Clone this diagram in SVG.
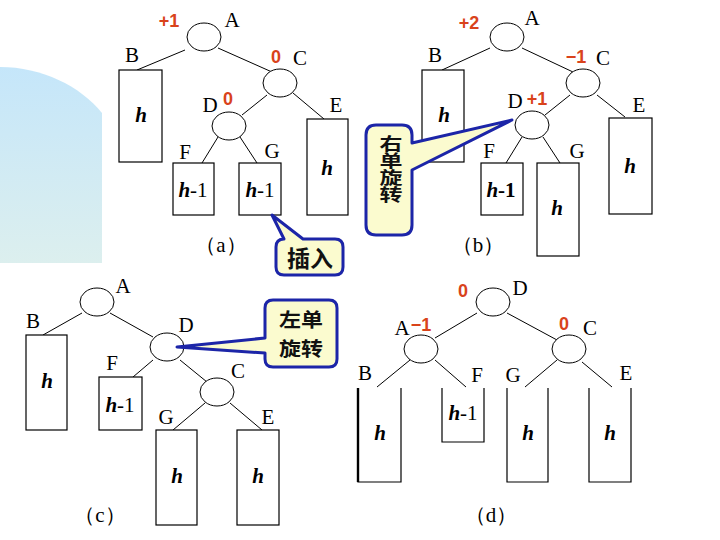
<svg xmlns="http://www.w3.org/2000/svg" width="720" height="540" viewBox="0 0 720 540">
<defs>
<linearGradient id="bg" x1="0" y1="0" x2="0" y2="1">
<stop offset="0" stop-color="#c5e6fa"/>
<stop offset="1" stop-color="#dcefee"/>
</linearGradient>
</defs>
<style>
.n{fill:#fff;stroke:#000;stroke-width:1}
.bx{fill:#fff;stroke:#000;stroke-width:1.2}
.ob{fill:none;stroke:#000;stroke-width:1.2}
.ln{stroke:#000;stroke-width:1;fill:none}
.lb{font-family:"Liberation Serif",serif;font-size:21px;text-anchor:middle;fill:#000}
.bf{font-family:"Liberation Sans",Arial,sans-serif;font-size:18px;font-weight:bold;text-anchor:middle;fill:#d9431b}
.h{font-family:"Liberation Serif",serif;font-size:21px;text-anchor:middle;fill:#000}
.hi{font-style:italic;font-weight:bold}
.co{fill:#fbfbcf;stroke:#1c25a8;stroke-width:3;stroke-linejoin:round}
.ct{font-family:"Noto Sans CJK SC",sans-serif;font-size:23px;font-weight:bold;text-anchor:middle;fill:#111}
</style>
<rect width="720" height="540" fill="#fff"/>
<path d="M0,67 C42,67 80,86 102,113 L102,263 L0,263 Z" fill="url(#bg)"/>

<g id="connectors">
<!-- (a) -->
<line class="ln" x1="185" y1="50" x2="137" y2="70"/>
<line class="ln" x1="218" y1="48" x2="272" y2="72"/>
<line class="ln" x1="267" y1="95" x2="242" y2="115"/>
<line class="ln" x1="293" y1="93" x2="324" y2="119"/>
<line class="ln" x1="218" y1="137" x2="202" y2="163"/>
<line class="ln" x1="240" y1="137" x2="257" y2="163"/>
<!-- (b) -->
<line class="ln" x1="490" y1="48" x2="442" y2="70"/>
<line class="ln" x1="522" y1="48" x2="573" y2="72"/>
<line class="ln" x1="570" y1="95" x2="545" y2="115"/>
<line class="ln" x1="597" y1="95" x2="625" y2="117"/>
<line class="ln" x1="522" y1="137" x2="506" y2="163"/>
<line class="ln" x1="543" y1="137" x2="560" y2="163"/>
<!-- (c) -->
<line class="ln" x1="82" y1="313" x2="43" y2="335"/>
<line class="ln" x1="110" y1="313" x2="153" y2="337"/>
<line class="ln" x1="153" y1="360" x2="133" y2="377"/>
<line class="ln" x1="180" y1="360" x2="207" y2="382"/>
<line class="ln" x1="205" y1="403" x2="173" y2="430"/>
<line class="ln" x1="230" y1="403" x2="262" y2="430"/>
<!-- (d) -->
<line class="ln" x1="477" y1="313" x2="435" y2="338"/>
<line class="ln" x1="507" y1="313" x2="557" y2="340"/>
<line class="ln" x1="410" y1="360" x2="377" y2="387"/>
<line class="ln" x1="435" y1="360" x2="466" y2="387"/>
<line class="ln" x1="557" y1="360" x2="525" y2="387"/>
<line class="ln" x1="582" y1="362" x2="612" y2="387"/>
</g>

<!-- (a) -->
<g id="a-A"><ellipse class="n" cx="204" cy="37" rx="17" ry="14"/><text class="lb" x="232" y="27">A</text><text class="bf" x="169" y="27">+1</text></g>
<g id="a-B"><text class="lb" x="132" y="62">B</text><rect class="bx" x="119" y="70" width="43" height="92"/><text class="h hi" x="141" y="122">h</text></g>
<g id="a-C"><ellipse class="n" cx="280" cy="83" rx="17" ry="14"/><text class="bf" x="276" y="63">0</text><text class="lb" x="300" y="65">C</text></g>
<g id="a-D"><ellipse class="n" cx="229" cy="126" rx="17" ry="14"/><text class="lb" x="210" y="112">D</text><text class="bf" x="228" y="105">0</text></g>
<g id="a-E"><text class="lb" x="336" y="112">E</text><rect class="bx" x="307" y="119" width="41" height="96"/><text class="h hi" x="327" y="175">h</text></g>
<g id="a-F"><text class="lb" x="185" y="159">F</text><rect class="bx" x="173" y="163" width="41" height="52"/><text class="h" x="193" y="197"><tspan class="hi">h</tspan>-1</text></g>
<g id="a-G"><text class="lb" x="272" y="158">G</text><rect class="bx" x="239" y="163" width="42" height="52"/><text class="h" x="260" y="197"><tspan class="hi">h</tspan>-1</text></g>
<text class="lb" x="221" y="252">（a）</text>

<!-- (b) -->
<g id="b-A"><ellipse class="n" cx="507" cy="37" rx="17" ry="14"/><text class="lb" x="532" y="25">A</text><text class="bf" x="469" y="29">+2</text></g>
<g id="b-B"><text class="lb" x="435" y="62">B</text><rect class="bx" x="422" y="70" width="42" height="92"/><text class="h hi" x="444" y="122">h</text></g>
<g id="b-C"><ellipse class="n" cx="583" cy="83" rx="17" ry="14"/><text class="bf" x="576" y="63">−1</text><text class="lb" x="603" y="65">C</text></g>
<g id="b-D"><ellipse class="n" cx="532" cy="125" rx="17" ry="14"/><text class="lb" x="515" y="108">D</text><text class="bf" x="537" y="105">+1</text></g>
<g id="b-E"><text class="lb" x="639" y="112">E</text><rect class="bx" x="609" y="118" width="43" height="96"/><text class="h hi" x="630" y="173">h</text></g>
<g id="b-F"><text class="lb" x="489" y="158">F</text><rect class="bx" x="481" y="163" width="42" height="52"/><text class="h" x="501" y="197" font-weight="bold"><tspan class="hi">h</tspan>-1</text></g>
<g id="b-G"><text class="lb" x="577" y="158">G</text><rect class="bx" x="537" y="163" width="42" height="93"/><text class="h hi" x="557" y="215">h</text></g>
<text class="lb" x="478" y="252">（b）</text>

<!-- (c) -->
<g id="c-A"><ellipse class="n" cx="97" cy="302" rx="17" ry="14"/><text class="lb" x="123" y="293">A</text></g>
<g id="c-B"><text class="lb" x="33" y="328">B</text><rect class="bx" x="26" y="335" width="41" height="95"/><text class="h hi" x="47" y="388">h</text></g>
<g id="c-D"><ellipse class="n" cx="167" cy="347" rx="17" ry="14"/><text class="lb" x="186" y="332">D</text></g>
<g id="c-F"><text class="lb" x="112" y="370">F</text><rect class="bx" x="99" y="377" width="43" height="53"/><text class="h" x="120" y="412"><tspan class="hi">h</tspan>-1</text></g>
<g id="c-C"><ellipse class="n" cx="217" cy="392" rx="17" ry="14"/><text class="lb" x="238" y="378">C</text></g>
<g id="c-G"><text class="lb" x="166" y="424">G</text><rect class="bx" x="156" y="430" width="41" height="95"/><text class="h hi" x="177" y="483">h</text></g>
<g id="c-E"><text class="lb" x="268" y="424">E</text><rect class="bx" x="237" y="430" width="42" height="95"/><text class="h hi" x="258" y="483">h</text></g>
<text class="lb" x="100" y="522">（c）</text>

<!-- (d) -->
<g id="d-D"><ellipse class="n" cx="493" cy="302" rx="17" ry="14"/><text class="lb" x="520" y="295">D</text><text class="bf" x="463" y="297">0</text></g>
<g id="d-A"><ellipse class="n" cx="421" cy="349" rx="17" ry="14"/><text class="lb" x="402" y="335">A</text><text class="bf" x="421" y="331">−1</text></g>
<g id="d-C"><ellipse class="n" cx="569" cy="349" rx="17" ry="14"/><text class="bf" x="564" y="330">0</text><text class="lb" x="590" y="335">C</text></g>
<g id="d-B"><text class="lb" x="365" y="380">B</text><path class="ob" d="M358,388 V482 H401 V388"/><line x1="358" y1="388" x2="358" y2="482" stroke="#000" stroke-width="2.4"/><text class="h hi" x="380" y="440">h</text></g>
<g id="d-F"><text class="lb" x="477" y="382">F</text><path class="ob" d="M442,388 V442 H484 V388"/><text class="h" x="463" y="420"><tspan class="hi">h</tspan>-1</text></g>
<g id="d-G"><text class="lb" x="513" y="382">G</text><path class="ob" d="M507,388 V482 H548 V388"/><text class="h hi" x="528" y="440">h</text></g>
<g id="d-E"><text class="lb" x="626" y="380">E</text><path class="ob" d="M589,388 V482 H631 V388"/><text class="h hi" x="610" y="440">h</text></g>
<text class="lb" x="491" y="522">（d）</text>

<!-- callouts -->
<g id="callout-insert">
<path class="co" d="M284,239 L272,215 L303,239 H335 Q343,239 343,247 V267 Q343,275 335,275 H284 Q276,275 276,267 V247 Q276,239 284,239 Z"/>
<text class="ct" x="310" y="267">插入</text>
</g>
<g id="callout-right">
<path class="co" d="M376,125 H402 Q412,125 412,135 V143 L512,120 L412,170 V225 Q412,235 402,235 H376 Q366,235 366,225 V135 Q366,125 376,125 Z"/>
<text class="ct" transform="translate(391,135) scale(1,0.74)" x="0" y="0" writing-mode="vertical-rl" style="text-anchor:start">右单旋转</text>
</g>
<g id="callout-left">
<path class="co" d="M273,300 H329 Q337,300 337,308 V359 Q337,367 329,367 H273 Q265,367 265,359 V353 L177,347 L265,338 V308 Q265,300 273,300 Z"/>
<text class="ct" transform="translate(301,333) scale(1,0.9)" x="0" y="-6.7" style="font-size:22px">左单</text>
<text class="ct" transform="translate(301,333) scale(1,0.9)" x="0" y="25.6" style="font-size:22px">旋转</text>
</g>
</svg>
